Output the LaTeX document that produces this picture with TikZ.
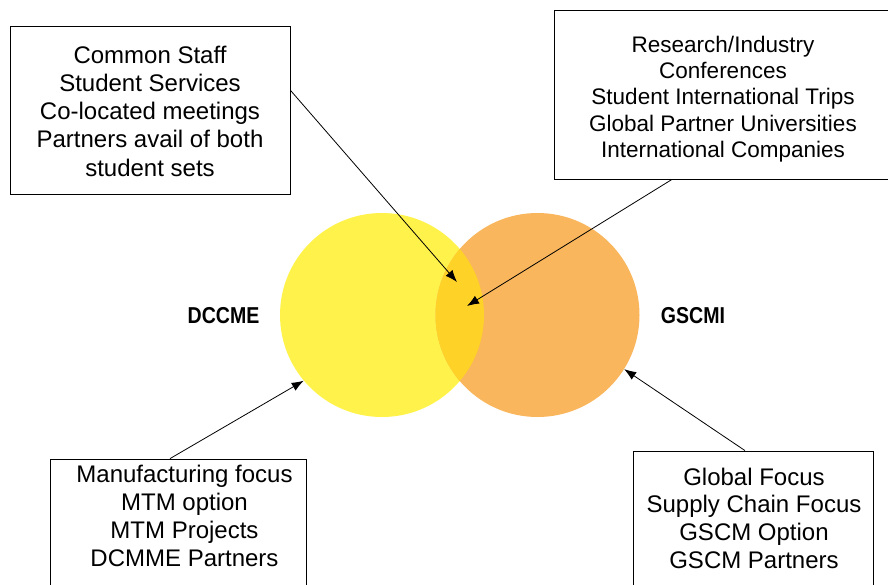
\documentclass[tikz,border=0pt]{standalone}
\usepackage{fontspec}
\setmainfont{Liberation Sans}
\newfontfamily\labelfont[FakeStretch=0.85]{Liberation Sans}
\usetikzlibrary{arrows.meta,positioning}

\definecolor{dccmeyellow}{RGB}{255,243,75}
\definecolor{gscmiorange}{RGB}{249,182,92}
\definecolor{overlapgold}{RGB}{255,210,40}

\tikzset{
  infobox/.style={draw,rectangle,line width=0.8pt,inner sep=0pt},
  infotext/.style={align=center,inner sep=0pt,anchor=north},
  setlabel/.style={inner sep=0pt,font=\labelfont\bfseries\fontsize{23pt}{23pt}\selectfont},
  pointer/.style={draw,line width=0.8pt,-{Latex[length=12pt,width=9pt]}}
}

\begin{document}
\begin{tikzpicture}[x=1pt,y=-1pt]
        \useasboundingbox (0,0) rectangle (888,584);
        \clip (0,0) rectangle (888,584);

        \begin{scope}[every node/.style={circle,minimum size=204pt,inner sep=0pt}]
          \node[fill=dccmeyellow] (dccme) at (382,315)   {};
          \node[fill=gscmiorange] (gscmi) at (537.5,315) {};
        \end{scope}

        \begin{scope}
          \clip (382,315) circle (102pt);
          \fill[overlapgold] (537.5,315) circle (102pt);
        \end{scope}

        \node[setlabel] (dccmelabel) at (223.5,315.5) {DCCME};
        \node[setlabel] (gscmilabel) at (693,315.5)   {GSCMI};

        \begin{scope}[every node/.style={infobox}]
          \node[minimum width=280pt,minimum height=168pt] (common) at (150,110)  {};
          \node[minimum width=346pt,minimum height=169pt] (global) at (727,94.5) {};
          \node[minimum width=256pt,minimum height=150pt] (manuf)  at (178,534)  {};
          \node[minimum width=240pt,minimum height=160pt] (supply) at (753,531)  {};
        \end{scope}

        \begin{scope}[every node/.style={infotext,font=\fontsize{24pt}{28.3pt}\selectfont}]
          \node (commontext) at (150,45.5)  {Common Staff\\Student Services\\Co-located meetings\\Partners avail of both\\student sets};
          \node[font=\fontsize{22.5pt}{26.3pt}\selectfont] (globaltext) at (723,35.6)
            {Research/Industry\\Conferences\\Student International Trips\\Global Partner Universities\\International Companies};
          \node[font=\fontsize{24pt}{28pt}\selectfont] (manuftext) at (184.5,464.5)
            {Manufacturing focus\\MTM option\\MTM Projects\\DCMME Partners};
          \node[font=\fontsize{24pt}{27.7pt}\selectfont] (supplytext) at (754,467.5)
            {Global Focus\\Supply Chain Focus\\GSCM Option\\GSCM Partners};
        \end{scope}

        \coordinate (commonend) at (457,282);
        \coordinate (globalend) at (467,306);

        \begin{scope}[every edge/.style={pointer}]
          \path (common.8)                 edge (commonend);
          \path ([xshift=-55pt]global.south) edge (globalend);
          \path ([xshift=-8pt]manuf.north)   edge (dccme.220);
          \path ([xshift=-8pt]supply.north)  edge (gscmi.328);
        \end{scope}

      \end{tikzpicture}
\end{document}
